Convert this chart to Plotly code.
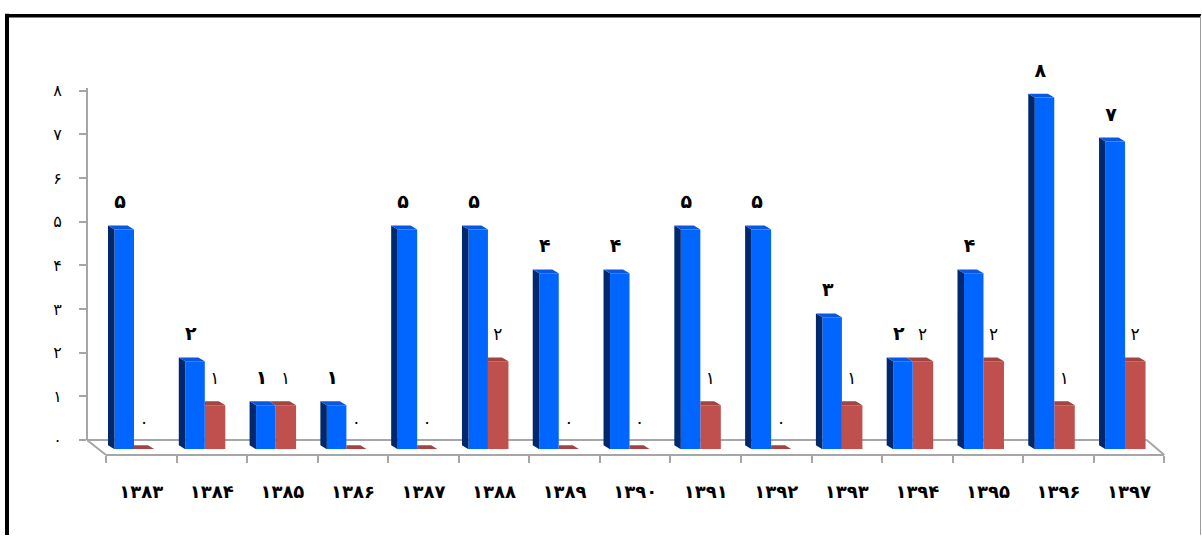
import plotly.graph_objects as go

# ---------------- data ----------------
years = ['۱۳۸۳', '۱۳۸۴', '۱۳۸۵', '۱۳۸۶', '۱۳۸۷', '۱۳۸۸', '۱۳۸۹', '۱۳۹۰',
         '۱۳۹۱', '۱۳۹۲', '۱۳۹۳', '۱۳۹۴', '۱۳۹۵', '۱۳۹۶', '۱۳۹۷']
blue_vals = [5, 2, 1, 1, 5, 5, 4, 4, 5, 5, 3, 2, 4, 8, 7]
red_vals = [0, 1, 1, 0, 0, 2, 0, 0, 1, 0, 1, 2, 2, 1, 2]
y_tick_vals = [0, 1, 2, 3, 4, 5, 6, 7, 8]
y_tick_text = ['۰', '۱', '۲', '۳', '۴', '۵', '۶', '۷', '۸']

FA = str.maketrans('0123456789', '۰۱۲۳۴۵۶۷۸۹')


def fa(n):
    return str(n).translate(FA)


# ---------------- geometry (pixels) ----------------
W, H = 1202, 541


def fx(px):
    return px / W


def fy(py):
    return 1 - py / H


BAR_BASE_PY, BAR_TOP_PY, UNIT_PX = 456.7, 40.0, 45.3
C0_PX, STEP_PX = 134.0, 70.79
AX_ZERO_PY, AX_UNIT_PX, AX_TOP_PY, AX_X_PX = 447.3, 45.0, 84.0, 87.0
FRONT_L_PX, FRONT_R_PX, FRONT_PY = 106.0, 1164.3, 462.7
BACK_R_PX = 1146.7

BLUE_W = 19.5 / STEP_PX
RED_W = 20.5 / STEP_PX
DX = -6.5 / STEP_PX
DY = 4.0 / UNIT_PX
LBL_DY = 26.5 / UNIT_PX
BLUE_LBL_DX = -14.0 / STEP_PX
RED_LBL_DX = 10.0 / STEP_PX

BLUE = '#0066ff'
BLUE_SIDE = '#00286e'
BLUE_TOP = '#0a58e0'
RED = '#c0504d'
RED_TOP = '#a04542'
GRID = '#a6a6a6'

n = len(years)
xs = list(range(n))

fig = go.Figure()

# front faces as bars
fig.add_trace(go.Bar(x=xs, y=red_vals, width=RED_W, offset=0,
                     marker=dict(color=RED, line=dict(width=0)),
                     hoverinfo='skip'))
fig.add_trace(go.Bar(x=xs, y=blue_vals, width=BLUE_W, offset=-BLUE_W,
                     marker=dict(color=BLUE, line=dict(width=0)),
                     hoverinfo='skip'))

# red top faces
rtx, rty = [], []
for i, (b, r) in enumerate(zip(blue_vals, red_vals)):
    if r < b:
        pts = [(i, r), (i + RED_W, r), (i + RED_W + DX, r + DY), (i, r + DY)]
    else:
        pts = [(i, r), (i + RED_W, r), (i + RED_W + DX, r + DY), (i + DX, r + DY)]
    for p in pts:
        rtx.append(p[0]); rty.append(p[1])
    rtx.append(None); rty.append(None)
fig.add_trace(go.Scatter(x=rtx, y=rty, fill='toself', fillcolor=RED_TOP,
                         mode='lines', line=dict(width=0), hoverinfo='skip'))

# blue side and top faces
sx, sy, tx, ty = [], [], [], []
for i, b in enumerate(blue_vals):
    l = i - BLUE_W
    for p in [(l, 0), (l, b), (l + DX, b + DY), (l + DX, DY)]:
        sx.append(p[0]); sy.append(p[1])
    sx.append(None); sy.append(None)
    for p in [(l, b), (i, b), (i + DX, b + DY), (l + DX, b + DY)]:
        tx.append(p[0]); ty.append(p[1])
    tx.append(None); ty.append(None)
fig.add_trace(go.Scatter(x=sx, y=sy, fill='toself', fillcolor=BLUE_SIDE,
                         mode='lines', line=dict(width=0), hoverinfo='skip'))
fig.add_trace(go.Scatter(x=tx, y=ty, fill='toself', fillcolor=BLUE_TOP,
                         mode='lines', line=dict(width=0), hoverinfo='skip'))

# value labels
fig.add_trace(go.Scatter(
    x=[i + BLUE_LBL_DX for i in xs], y=[v + LBL_DY for v in blue_vals],
    text=[fa(v) for v in blue_vals], mode='text', cliponaxis=False,
    textfont=dict(family='DejaVu Sans', size=19, color='black', weight='bold'),
    hoverinfo='skip'))
fig.add_trace(go.Scatter(
    x=[i + RED_LBL_DX for i in xs], y=[v + LBL_DY for v in red_vals],
    text=[fa(v) for v in red_vals], mode='text', cliponaxis=False,
    textfont=dict(family='DejaVu Sans', size=17, color='black'),
    hoverinfo='skip'))

# dummy trace for the axis frame subplot
fig.add_trace(go.Scatter(x=[0], y=[0], xaxis='x2', yaxis='y2', mode='markers',
                         marker=dict(opacity=0), hoverinfo='skip'))

shapes = [
    # floor
    dict(type='line', xref='paper', yref='paper', layer='below',
         x0=fx(AX_X_PX), y0=fy(AX_ZERO_PY), x1=fx(BACK_R_PX), y1=fy(AX_ZERO_PY),
         line=dict(color=GRID, width=2)),
    dict(type='line', xref='paper', yref='paper', layer='below',
         x0=fx(AX_X_PX), y0=fy(AX_ZERO_PY), x1=fx(FRONT_L_PX), y1=fy(FRONT_PY),
         line=dict(color=GRID, width=2)),
    dict(type='line', xref='paper', yref='paper', layer='below',
         x0=fx(BACK_R_PX), y0=fy(AX_ZERO_PY), x1=fx(FRONT_R_PX), y1=fy(FRONT_PY),
         line=dict(color=GRID, width=2)),
    # frame border
    dict(type='line', xref='paper', yref='paper', x0=fx(7), y0=fy(8), x1=fx(7), y1=fy(545),
         line=dict(color='black', width=4)),
    dict(type='line', xref='paper', yref='paper', x0=fx(5), y0=fy(10), x1=fx(1201), y1=fy(10),
         line=dict(color='black', width=3.5)),
    dict(type='line', xref='paper', yref='paper', x0=fx(1200.5), y0=fy(10), x1=fx(1200.5), y1=fy(545),
         line=dict(color='#9a9a9a', width=1)),
]

fig.update_layout(
    width=W, height=H, autosize=False,
    margin=dict(l=0, r=0, t=0, b=0, pad=0),
    paper_bgcolor='white', plot_bgcolor='rgba(0,0,0,0)',
    showlegend=False, hovermode=False, barmode='overlay',
    shapes=shapes,
    xaxis=dict(domain=[fx(C0_PX - STEP_PX / 2), fx(C0_PX + (n - 0.5) * STEP_PX)],
               range=[-0.5, n - 0.5], visible=False, fixedrange=True),
    yaxis=dict(domain=[fy(BAR_BASE_PY), fy(BAR_TOP_PY)],
               range=[0, (BAR_BASE_PY - BAR_TOP_PY) / UNIT_PX], visible=False, fixedrange=True),
    xaxis2=dict(domain=[fx(FRONT_L_PX), fx(FRONT_R_PX)], range=[-0.5, n - 0.5],
                anchor='free', position=fy(FRONT_PY),
                tickmode='array', tickvals=xs, ticktext=years, ticks='',
                showline=True, linecolor=GRID, linewidth=2,
                showgrid=False, zeroline=False, ticklabelstandoff=20,
                minor=dict(tickmode='array', tickvals=[k - 0.5 for k in range(n + 1)],
                           ticks='outside', ticklen=7, tickcolor=GRID, tickwidth=2,
                           showgrid=False),
                tickfont=dict(family='DejaVu Sans', size=18, color='black', weight='bold'),
                fixedrange=True),
    yaxis2=dict(domain=[fy(AX_ZERO_PY), fy(AX_TOP_PY)],
                range=[0, (AX_ZERO_PY - AX_TOP_PY) / AX_UNIT_PX],
                anchor='free', position=fx(AX_X_PX), side='left',
                tickmode='array', tickvals=y_tick_vals, ticktext=y_tick_text,
                ticks='outside', ticklen=7, tickcolor=GRID, tickwidth=2,
                showline=True, linecolor=GRID, linewidth=2,
                showgrid=False, zeroline=False, ticklabelstandoff=14,
                tickfont=dict(family='DejaVu Sans', size=16, color='black'),
                fixedrange=True),
)

fig.write_html(
    'out.html',
    config={'displayModeBar': False, 'staticPlot': True},
    post_script=("var d=document.getElementById('{plot_id}');"
                 "d.style.position='fixed';d.style.left='0px';d.style.top='0px';"
                 "document.body.style.margin='0';document.body.style.overflow='hidden';"
                 "document.documentElement.style.overflow='hidden';"),
)
